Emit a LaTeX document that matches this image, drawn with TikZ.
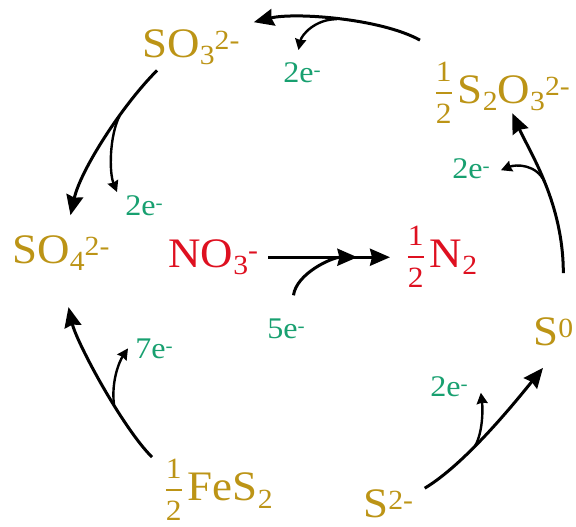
\documentclass[tikz,border=0pt]{standalone}
\usepackage{amsmath}
\usepackage{fontspec}
\setmainfont{Liberation Serif}[FakeStretch=1.07]
\usepackage{tikz}
\usetikzlibrary{arrows.meta}
\definecolor{cGold}{RGB}{188,148,22}
\definecolor{cRed}{RGB}{222,16,32}
\definecolor{cTeal}{RGB}{24,160,112}
\newcommand{\chsub}[1]{\raisebox{-0.19em}{\scalebox{0.66}{#1}}}
\newcommand{\chsup}[1]{\raisebox{0.17em}{\scalebox{0.66}{#1}}}
\newcommand{\half}{$\genfrac{}{}{1pt}{1}{\text{1}\rule[-4pt]{0pt}{0pt}}{\rule{0pt}{13.95pt}\text{2}}$\kern2pt}
\tikzset{
	species/.style ={anchor=base west, inner sep=0pt, text=cGold, font=\fontsize{21pt}{25pt}\selectfont},
	nitro/.style   ={species, text=cRed},
	elec/.style    ={anchor=base west, inner sep=0pt, text=cTeal, font=\fontsize{15pt}{18pt}\selectfont},
	cyc/.style     ={-{Stealth[length=10pt, width=8.5pt, inset=1pt]}, line width=1.5pt},
	branch/.style  ={-{Stealth[length=5.5pt, width=5.5pt, inset=0.5pt]}, line width=1.2pt},
}
\begin{document}
\begin{tikzpicture}[x=0.5pt, y=-0.5pt]
\useasboundingbox (0,0) rectangle (576,526);
% sulfur species
\node[species] (so3)  at (142,57)  {SO\chsub{3}\chsup{2-}};
\node[species] (s2o3) at (433,103) {\half S\chsub{2}O\chsub{3}\chsup{2-}};
\node[species] (so4)  at (12,263)  {SO\chsub{4}\chsup{2-}};
\node[species] (s0)   at (533,345) {S\chsup{0}};
\node[species] (fes2) at (163,500) {\half FeS\chsub{2}};
\node[species] (s2m)  at (363,517) {S\chsup{2-}};
% nitrogen
\node[nitro] (no3) at (168,267) {NO\chsub{3}\chsup{-}};
\node[nitro] (n2)  at (405,267) {\half N\chsub{2}};
% electrons
\node[elec] (e1) at (430,396) {2e\chsup{-}};
\node[elec] (e2) at (452,178) {2e\chsup{-}};
\node[elec] (e3) at (283,82)  {2e\chsup{-}};
\node[elec] (e4) at (125,215) {2e\chsup{-}};
\node[elec] (e5) at (135,358) {7e\chsup{-}};
\node[elec] (e6) at (267,338) {5e\chsup{-}};

\draw[cyc] ([xshift=5.6pt,yshift=0.3pt]s2m.north east) .. controls +(40,-24) and +(-30,37) .. ([xshift=5pt,yshift=-11pt]s0.south west) coordinate[pos=0.4] (b1);
\draw[branch] (b1) .. controls +(8,-14) and +(2,16) .. ([xshift=6.35pt,yshift=2pt]e1.south east);

\draw[cyc] ([xshift=5pt,yshift=21.8pt]s0.north) .. controls +(0,-70) and +(18,40) .. ([xshift=5.35pt,yshift=5.35pt]s2o3.south) coordinate[pos=0.5] (b2);
\draw[branch] (b2) .. controls +(-8,-18) and +(15,-6) .. ([xshift=5.35pt,yshift=-1pt]e2.east);

\draw[cyc] ([xshift=-6.5pt,yshift=10.85pt]s2o3.north west) .. controls +(-40,-22) and +(40,-10) .. ([xshift=7pt,yshift=3.3pt]so3.north east) coordinate[pos=0.5] (b3);
\draw[branch] (b3) .. controls +(-22,0) and +(3,-15) .. ([xshift=-1.8pt,yshift=5.85pt]e3.north);

\draw[cyc] ([xshift=7.5pt,yshift=-2.4pt]so3.south west) .. controls +(-35,35) and +(10,-45) .. ([xshift=4.8pt,yshift=9.8pt]so4.north) coordinate[pos=0.35] (b4);
\draw[branch] (b4) .. controls +(-10,20) and +(-8,-20) .. ([xshift=-4pt,yshift=1.35pt]e4.north west);

\draw[cyc] ([xshift=-5.5pt,yshift=0.85pt]fes2.north west) .. controls +(-30,-30) and +(8,35) .. ([xshift=3.8pt,yshift=-17.85pt]so4.south) coordinate[pos=0.38] (b5);
\draw[branch] (b5) .. controls +(-3,-25) and +(-8,12) .. ([xshift=-3.5pt]e5.west);

\draw[cyc, shorten <=5pt, shorten >=7.5pt] (no3.east) -- (no3.east -| n2.west) coordinate[pos=0.675] (m6);
\draw[cyc] ([xshift=3.7pt,yshift=11.35pt]e6.north) .. controls +(3,-22) and +(-25,0) .. (m6);
\end{tikzpicture}
\end{document}
